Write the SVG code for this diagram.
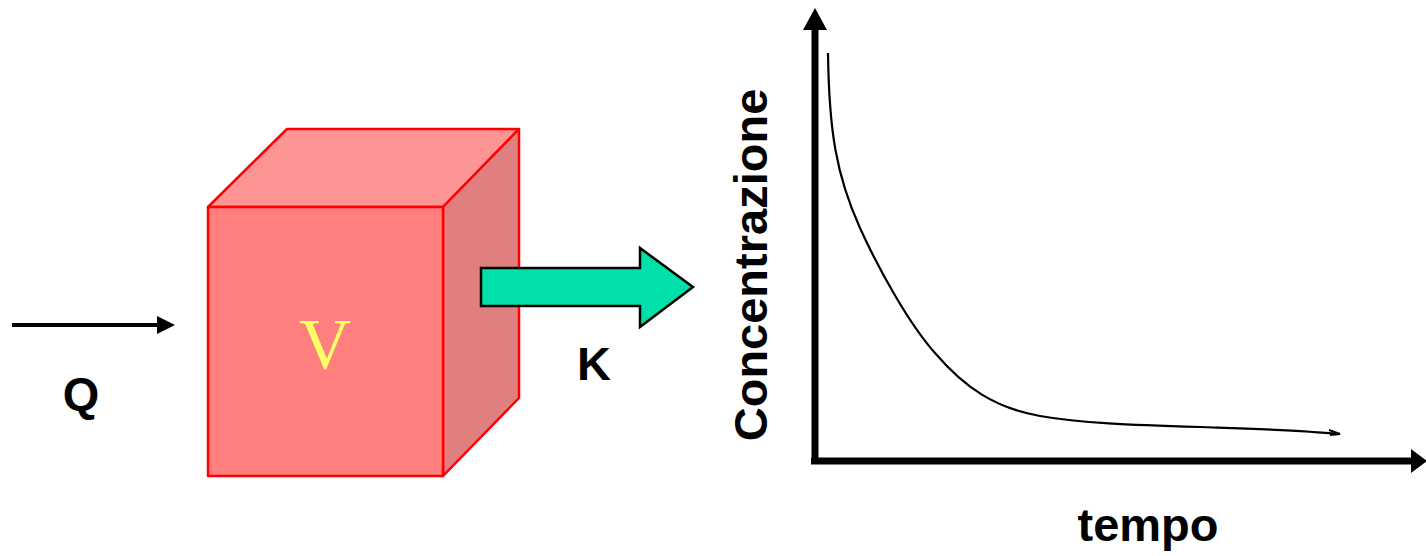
<svg xmlns="http://www.w3.org/2000/svg" width="1426" height="556" viewBox="0 0 1426 556">
<defs>
<style>
.lbl{font-family:"Liberation Sans",Arial,sans-serif;font-weight:bold;font-size:47px;fill:#000}
.edge{stroke:#FF0000;stroke-width:2.5;stroke-linejoin:round}
</style>
<marker id="ahQ" viewBox="0 0 18 18" refX="0" refY="9" markerWidth="18" markerHeight="18" markerUnits="userSpaceOnUse" orient="auto">
<path d="M0,0 L18,9 L0,18 Z" fill="#000"/>
</marker>
<marker id="ahV" viewBox="0 0 22 24" refX="0" refY="12" markerWidth="22" markerHeight="24" markerUnits="userSpaceOnUse" orient="auto">
<path d="M0,0 L22,12 L0,24 Z" fill="#000"/>
</marker>
<marker id="ahH" viewBox="0 0 16 24" refX="0" refY="12" markerWidth="16" markerHeight="24" markerUnits="userSpaceOnUse" orient="auto">
<path d="M0,0 L16,12 L0,24 Z" fill="#000"/>
</marker>
</defs>
<rect width="1426" height="556" fill="#fff"/>
<g id="cube">
<polygon class="edge" points="208,207 287,129 519,129 443,207" fill="#FF9494"/>
<polygon class="edge" points="443,207 519,129 519,398 443,476" fill="#E07F7F"/>
<rect class="edge" x="208" y="207" width="235" height="269" fill="#FF7F7F"/>
<text x="325" y="368" text-anchor="middle" font-family="Liberation Serif,'Times New Roman',serif" font-size="72" fill="#FFFF66">V</text>
</g>
<g id="outflow">
<polygon points="481,268 640,268 640,248 693,287 640,327 640,306 481,306" fill="#00E0A8" stroke="#000" stroke-width="2.5" stroke-linejoin="miter"/>
<text class="lbl" x="594" y="380" text-anchor="middle">K</text>
</g>
<g id="inflow">
<text class="lbl" x="81" y="410" text-anchor="middle">Q</text>
</g>
<g id="connectors">
<line x1="12" y1="325" x2="157" y2="325" stroke="#000" stroke-width="4" marker-end="url(#ahQ)"/>
</g>
<g id="chart">
<line x1="815" y1="464" x2="815" y2="30" stroke="#000" stroke-width="7" marker-end="url(#ahV)"/>
<line x1="811" y1="461" x2="1411" y2="461" stroke="#000" stroke-width="7" marker-end="url(#ahH)"/>
<path d="M828,53 C829,130 836,175 860,228 C880,272 910,325 935,353 C965,388 995,408 1040,416 C1080,423 1130,425 1200,427 C1260,429 1300,430 1338,434" fill="none" stroke="#000" stroke-width="2.2"/>
<path d="M1329,430 L1340,434 L1330,435" fill="none" stroke="#000" stroke-width="2"/>
<text class="lbl" transform="translate(767,265) rotate(-90)" text-anchor="middle">Concentrazione</text>
<text class="lbl" x="1148" y="541" text-anchor="middle">tempo</text>
</g>
</svg>
